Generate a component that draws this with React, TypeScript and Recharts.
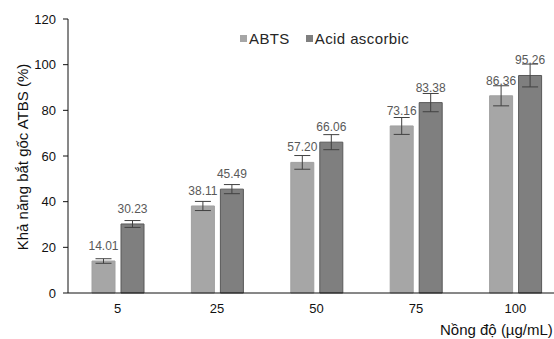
import React from "react"
import { BarChart, Bar, XAxis, YAxis, Legend, LabelList, ErrorBar, Label } from "recharts"

const concentrations = ["5", "25", "50", "75", "100"]
const abtsValues = [14.01, 38.11, 57.2, 73.16, 86.36]
const abtsErrors = [1.0, 2.0, 3.0, 3.7, 4.4]
const acidValues = [30.23, 45.49, 66.06, 83.38, 95.26]
const acidErrors = [1.5, 2.0, 3.3, 4.0, 5.0]
const yTicks = [0, 20, 40, 60, 80, 100, 120]

const data = concentrations.map((c, i) => ({
  conc: c,
  abts: abtsValues[i],
  abtsErr: abtsErrors[i],
  acid: acidValues[i],
  acidErr: acidErrors[i],
}))

const FONT = "'Liberation Sans', Arial, sans-serif"

function LegendContent({ payload }: any) {
  return (
    <div style={{ display: "flex", alignItems: "center", fontFamily: FONT, fontSize: 15, color: "#262626", letterSpacing: 0.4 }}>
      {(payload || []).map((entry: any, i: number) => (
        <div key={i} style={{ display: "flex", alignItems: "center", marginRight: 16 }}>
          <span style={{ display: "inline-block", width: 7, height: 7, background: entry.color, marginRight: 2 }} />
          <span>{entry.value}</span>
        </div>
      ))}
    </div>
  )
}

export default function App() {
  return (
    <div style={{ position: "fixed", left: 0, top: 0, width: 554, height: 339, overflow: "hidden", background: "#fff" }}>
      <BarChart
        width={580}
        height={339}
        data={data}
        margin={{ top: 19, right: 15, left: 0, bottom: 0 }}
        barSize={23}
        barGap={6}
      >
        <XAxis
          dataKey="conc"
          height={46}
          stroke="#111"
          tickLine={false}
          tickMargin={5}
          tick={{ fill: "#111", fontSize: 13, fontFamily: FONT }}
        >
          <Label
            content={() => (
              <text x={440} y={335} fontSize={15} fontFamily={FONT} fill="#111">
                Nồng độ (µg/mL)
              </text>
            )}
          />
        </XAxis>
        <YAxis
          width={68}
          domain={[0, 120]}
          ticks={yTicks}
          stroke="#111"
          tickSize={5}
          tickMargin={7}
          tick={{ fill: "#111", fontSize: 13, fontFamily: FONT }}
        >
          <Label
            content={() => (
              <text
                x={22}
                y={157}
                transform="rotate(-90 22 157)"
                textAnchor="middle"
                dominantBaseline="central"
                fontSize={15}
                fontFamily={FONT}
                fill="#111"
              >
                Khả năng bắt gốc ATBS (%)
              </text>
            )}
          />
        </YAxis>
        <Legend
          verticalAlign="middle"
          align="center"
          content={<LegendContent />}
          wrapperStyle={{ top: 30, left: 240, width: 260, height: 18 }}
        />
        <Bar dataKey="abts" name="ABTS" fill="#a6a6a6" stroke="#a0a0a0" isAnimationActive={false}>
          <ErrorBar dataKey="abtsErr" width={8} stroke="#404040" strokeWidth={1} direction="y" />
          <LabelList dataKey="abts" position="top" offset={11} formatter={(v: any) => Number(v).toFixed(2)} style={{ fill: "#595959", fontSize: 12, fontFamily: FONT }} />
        </Bar>
        <Bar dataKey="acid" name="Acid ascorbic" fill="#7f7f7f" stroke="#595959" isAnimationActive={false}>
          <ErrorBar dataKey="acidErr" width={8} stroke="#404040" strokeWidth={1} direction="y" />
          <LabelList dataKey="acid" position="top" offset={11} formatter={(v: any) => Number(v).toFixed(2)} style={{ fill: "#595959", fontSize: 12, fontFamily: FONT }} />
        </Bar>
      </BarChart>
    </div>
  )
}
